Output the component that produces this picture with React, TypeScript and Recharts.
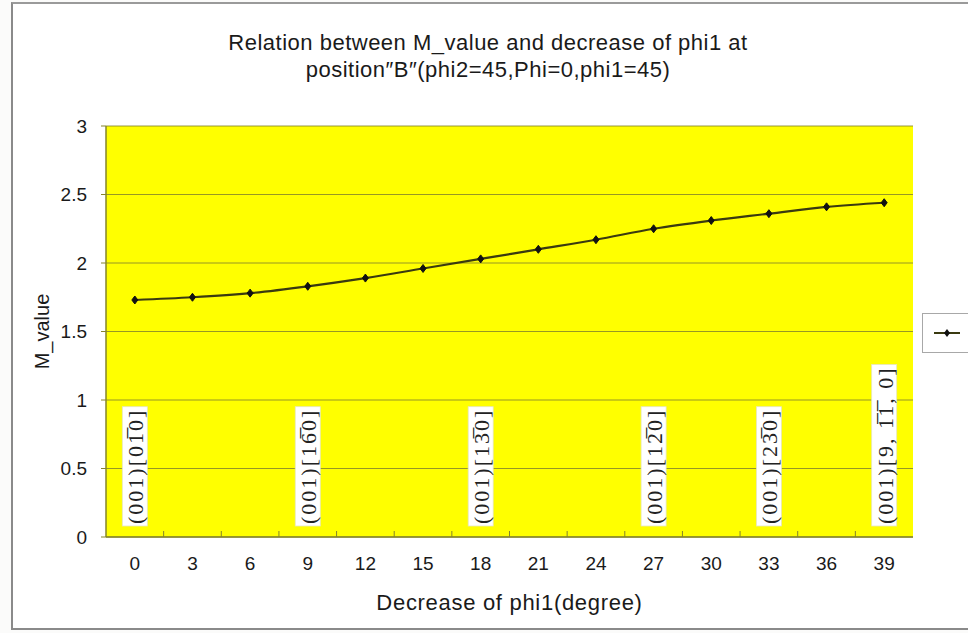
import React from 'react';
import { LineChart, Line, XAxis, YAxis, CartesianGrid, ReferenceDot } from 'recharts';

// decrease of phi1 (degree) and the measured M value at each step
const angles = [0, 3, 6, 9, 12, 15, 18, 21, 24, 27, 30, 33, 36, 39];
const mValues = [1.73, 1.75, 1.78, 1.83, 1.89, 1.96, 2.03, 2.1, 2.17, 2.25, 2.31, 2.36, 2.41, 2.44];
const yTicks = [0, 0.5, 1, 1.5, 2, 2.5, 3];

// orientation notes written inside the plot
const noteAngles = [0, 9, 18, 27, 33, 39];
const noteTexts = [
  '(001)[01\u03050]',
  '(001)[16\u03050]',
  '(001)[13\u03050]',
  '(001)[12\u03050]',
  '(001)[23\u03050]',
  '(001)[9, 1\u03051\u0305, 0]',
];

const data = angles.map((a, i) => ({ angle: a, m: mValues[i] }));

const SANS = '"Liberation Sans", Arial, sans-serif';
const SERIF = '"Liberation Serif", "Times New Roman", serif';
const OLIVE = '#85852a';
const HALF_BAND = 807 / 14 / 2;

const NOTE_SIZE = 22;
const NOTE_SPACING = 2;

function measure(text: string) {
  const ctx = document.createElement('canvas').getContext('2d');
  if (!ctx) return text.length * 12;
  ctx.font = `${NOTE_SIZE}px ${SERIF}`;
  const chars = text.replace(/\u0305/g, '').length;
  return ctx.measureText(text).width + chars * NOTE_SPACING;
}

function Note(props: any) {
  const { viewBox, text } = props;
  if (!viewBox) return null;
  const cx = viewBox.x + (viewBox.width || 0) / 2;
  const cy = viewBox.y + (viewBox.height || 0) / 2;
  const len = measure(text);
  return (
    <g transform={`translate(${cx},${cy - 11}) rotate(-90)`}>
      <rect x={0} y={-12.5} width={len + 4} height={25} fill="#ffffff" stroke="#e6e6c0" strokeWidth={0.8} />
      <text
        x={2}
        y={1}
        dominantBaseline="central"
        fontFamily={SERIF}
        fontSize={NOTE_SIZE}
        letterSpacing={NOTE_SPACING}
        fill="#222"
      >
        {text}
      </text>
    </g>
  );
}

function Diamond(props: any) {
  const { cx, cy } = props;
  if (cx == null || cy == null) return null;
  const s = 4;
  return (
    <polygon
      points={`${cx},${cy - s} ${cx + s - 1},${cy} ${cx},${cy + s} ${cx - s + 1},${cy}`}
      fill="#111"
      stroke="#111"
    />
  );
}

function AngleTick(props: any) {
  const { x, y, payload, index } = props;
  const axisY = y - 20;
  return (
    <g>
      {index < angles.length - 1 && (
        <line x1={x + HALF_BAND} x2={x + HALF_BAND} y1={axisY} y2={axisY - 6} stroke={OLIVE} />
      )}
      <text x={x} y={y} dy="0.71em" textAnchor="middle" fontFamily={SANS} fontSize={19} fill="#1a1a1a">
        {payload.value}
      </text>
    </g>
  );
}

export default function App() {
  return (
    <div style={{ position: 'fixed', left: 0, top: 0, width: 968, height: 633, background: '#fbfbfa' }}>
      <div
        style={{
          position: 'absolute',
          left: 11,
          top: 2,
          width: 970,
          height: 624,
          borderLeft: '2px solid #8a8a8a',
          borderTop: '2px solid #9a9a9a',
          borderBottom: '2px solid #8a8a8a',
          background: '#ffffff',
        }}
      />
      <div
        style={{
          position: 'absolute',
          left: 188,
          top: 29,
          width: 600,
          textAlign: 'center',
          fontFamily: SANS,
          fontSize: 22,
          lineHeight: '27px',
          color: '#1a1a1a',
          letterSpacing: 0.5,
        }}
      >
        <div>Relation between M_value and decrease of phi1 at</div>
        <div>position″B″(phi2=45,Phi=0,phi1=45)</div>
      </div>
      <div style={{ position: 'absolute', left: 0, top: 0 }}>
        <LineChart width={968} height={633} data={data} margin={{ top: 126, right: 55, bottom: 66, left: 36 }}>
          <CartesianGrid vertical={false} fill="#ffff00" stroke={OLIVE} strokeOpacity={0.85} />
          <XAxis
            dataKey="angle"
            type="category"
            padding={{ left: HALF_BAND, right: HALF_BAND }}
            height={30}
            tickSize={0}
            tickMargin={20}
            tickLine={false}
            axisLine={{ stroke: OLIVE, strokeWidth: 1.5 }}
            tick={<AngleTick />}
            interval={0}
            label={{
              value: 'Decrease of phi1(degree)',
              position: 'bottom',
              offset: 27,
              style: { fontFamily: SANS, fontSize: 22, fill: '#1a1a1a', letterSpacing: 0.7 },
            }}
          />
          <XAxis xAxisId="top" orientation="top" dataKey="angle" height={0} tick={false} tickLine={false} axisLine={{ stroke: OLIVE, strokeWidth: 1.5 }} />
          <YAxis
            domain={[0, 3]}
            ticks={yTicks}
            width={70}
            tickSize={5}
            tickMargin={14}
            tickLine={{ stroke: OLIVE }}
            axisLine={{ stroke: OLIVE, strokeWidth: 1.5 }}
            tick={{ fontFamily: SANS, fontSize: 19, fill: '#1a1a1a' }}
            label={{
              value: 'M_value',
              angle: -90,
              position: 'insideLeft',
              offset: 6,
              style: { fontFamily: SANS, fontSize: 20, fill: '#1a1a1a', textAnchor: 'middle' },
            }}
          />
          <YAxis yAxisId="right" orientation="right" width={0} tick={false} tickLine={false} axisLine={{ stroke: OLIVE, strokeWidth: 1.5 }} />
          {noteAngles.map((a, i) => (
            <ReferenceDot key={a} x={a} y={0} r={0} fill="none" stroke="none" ifOverflow="visible" label={<Note text={noteTexts[i]} />} />
          ))}
          <Line
            type="monotone"
            dataKey="m"
            stroke="#3a3a10"
            strokeWidth={2.2}
            dot={<Diamond />}
            activeDot={false}
            isAnimationActive={false}
          />
        </LineChart>
      </div>
      <div
        style={{
          position: 'absolute',
          left: 922,
          top: 313,
          width: 60,
          height: 38,
          border: '1px solid #a8a8a8',
          background: '#ffffff',
        }}
      >
        <svg width={46} height={38}>
          <line x1={11} x2={37} y1={19} y2={19} stroke="#3a3a10" strokeWidth={2} />
          <polygon points="24,15 27,19 24,23 21,19" fill="#111" />
        </svg>
      </div>
    </div>
  );
}
